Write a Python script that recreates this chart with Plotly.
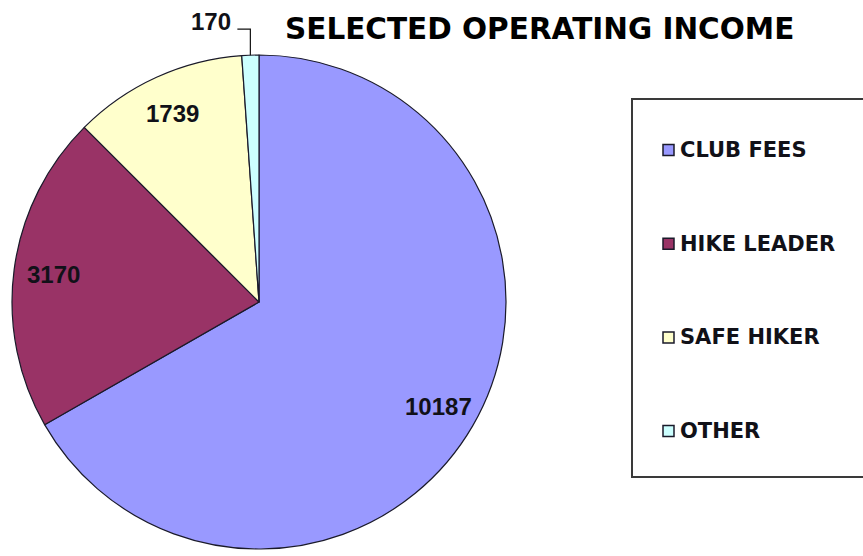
import math
import plotly.graph_objects as go

# ---- data ----
categories = ["CLUB FEES", "HIKE LEADER", "SAFE HIKER", "OTHER"]
values = [10187, 3170, 1739, 170]
colors = ["#9999FF", "#993366", "#FFFFCC", "#CCFFFF"]
title_text = "SELECTED OPERATING INCOME"

W, H = 863, 556
# pie geometry (pixels)
CX, CY, R = 259, 302, 247


def px(x):
    return x / W


def py(y):
    return 1 - y / H


fig = go.Figure()
fig.add_trace(go.Pie(
    labels=categories,
    values=values,
    marker=dict(colors=colors, line=dict(color="#1a1a2a", width=1.2)),
    sort=False,
    direction="clockwise",
    rotation=0,
    textinfo="none",
    hoverinfo="label+value+percent",
    showlegend=False,
    domain=dict(x=[px(CX - R), px(CX + R)], y=[py(CY + R), py(CY - R)]),
))

annotations = []
shapes = []

# value labels, positioned from slice mid-angles
total = sum(values)
cum = 0
label_font = dict(family="Liberation Sans, Arial, sans-serif", size=24, color="#111118")
for i, v in enumerate(values):
    frac = v / total
    mid = (cum + frac / 2) * 2 * math.pi
    cum += frac
    if frac > 0.05:
        r = 0.84 * R
        x = CX + math.sin(mid) * r
        y = CY - math.cos(mid) * r
        annotations.append(dict(x=px(x), y=py(y), xref="paper", yref="paper",
                                text=f"<b>{v}</b>", showarrow=False, font=label_font,
                                xanchor="center", yanchor="middle"))
    else:
        ex = CX + math.sin(mid) * R
        ey = CY - math.cos(mid) * R
        elbow_y = ey - 26
        tx = ex - 13
        shapes.append(dict(type="path", xref="paper", yref="paper",
                           path=f"M {px(tx)},{py(elbow_y)} L {px(ex)},{py(elbow_y)} L {px(ex)},{py(ey)}",
                           line=dict(color="#111", width=1.2)))
        annotations.append(dict(x=px(tx - 4), y=py(elbow_y - 8), xref="paper", yref="paper",
                                text=f"<b>{v}</b>", showarrow=False, font=label_font,
                                xanchor="right", yanchor="middle"))

# title
annotations.append(dict(x=px(283), y=py(29), xref="paper", yref="paper",
                        text=f"<b>{title_text}</b>", showarrow=False,
                        font=dict(family="DejaVu Sans, sans-serif", size=29.5, color="#000"),
                        xanchor="left", yanchor="middle"))

# legend (manual, to reproduce the wide spacing)
shapes.append(dict(type="rect", xref="paper", yref="paper",
                   x0=px(632), x1=px(W + 20), y0=py(477), y1=py(99),
                   line=dict(color="#3a3a3a", width=2), fillcolor="rgba(0,0,0,0)"))
leg_y0, leg_dy = 150, 93.7
for i, (cat, col) in enumerate(zip(categories, colors)):
    yc = leg_y0 + i * leg_dy
    shapes.append(dict(type="rect", xref="paper", yref="paper",
                       x0=px(663), x1=px(674), y0=py(yc + 5.5), y1=py(yc - 5.5),
                       line=dict(color="#1a1a2a", width=1.5), fillcolor=col))
    annotations.append(dict(x=px(678), y=py(yc), xref="paper", yref="paper",
                            text=f"<b>{cat}</b>", showarrow=False,
                            font=dict(family="DejaVu Sans, sans-serif", size=21, color="#111118"),
                            xanchor="left", yanchor="middle"))

fig.update_layout(
    width=W, height=H,
    margin=dict(l=0, r=0, t=0, b=0),
    paper_bgcolor="white",
    plot_bgcolor="white",
    showlegend=False,
    annotations=annotations,
    shapes=shapes,
)

fig.write_html(
    "out.html",
    config={"displayModeBar": False},
    post_script="document.body.style.margin='0px';document.body.style.overflow='hidden';",
)
